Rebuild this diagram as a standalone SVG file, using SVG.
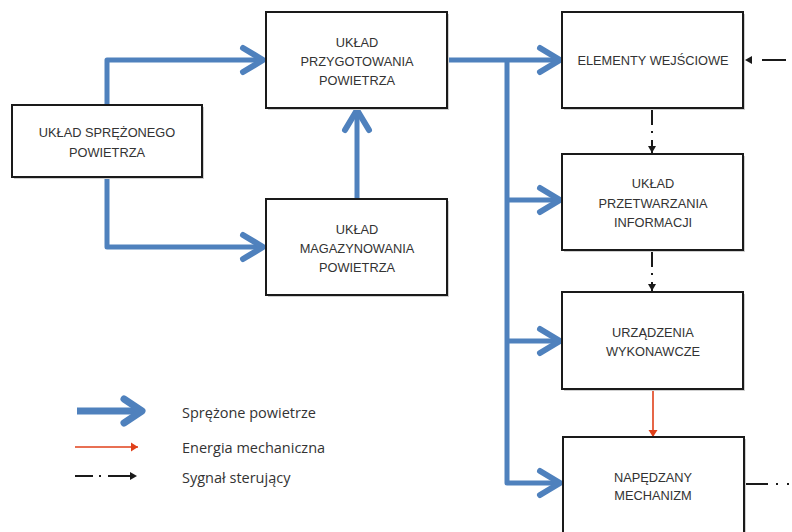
<svg xmlns="http://www.w3.org/2000/svg" width="792" height="532" viewBox="0 0 792 532">
<style>
.box{fill:#fff;stroke:#1a1a1a;stroke-width:2}
.sh{fill:#cfcfcf}
.t{font-family:"Liberation Sans",Arial,sans-serif;font-size:12.8px;fill:#333;text-anchor:middle;dominant-baseline:central}
.lg{font-family:"Open Sans","Liberation Sans",sans-serif;font-size:14.5px;fill:#333;dominant-baseline:central}
.air{fill:none;stroke:#4f81bd;stroke-width:5;stroke-linejoin:round;stroke-linecap:butt}
.mech{fill:none;stroke:#e0401a;stroke-width:1.6}
.sig{fill:none;stroke:#1a1a1a;stroke-width:2;stroke-dasharray:17 6 2 7}
</style>
<defs>
<marker id="chev" markerUnits="userSpaceOnUse" viewBox="-26 -16 30 32" refX="0" refY="0" markerWidth="30" markerHeight="32" orient="auto" overflow="visible">
<path d="M-20,-12 L0,0 L-20,12" fill="none" stroke="#4f81bd" stroke-width="6" stroke-linecap="round" stroke-linejoin="round"/>
</marker>
<marker id="red" markerUnits="userSpaceOnUse" viewBox="-8 -5 9 10" refX="0" refY="0" markerWidth="9" markerHeight="10" orient="auto" overflow="visible">
<path d="M-7,-4.5 L0,0 L-7,4.5 Z" fill="#e0401a"/>
</marker>
<marker id="blk" markerUnits="userSpaceOnUse" viewBox="-8 -5 9 10" refX="0" refY="0" markerWidth="9" markerHeight="10" orient="auto" overflow="visible">
<path d="M-7,-4 L0,0 L-7,4 Z" fill="#1a1a1a"/>
</marker>
</defs>

<g id="connectors">
<path class="air" d="M107,105 V60 H263" marker-end="url(#chev)"/>
<path class="air" d="M107,177 V247 H263" marker-end="url(#chev)"/>
<path class="air" d="M357,199 V110" marker-end="url(#chev)"/>
<path class="air" d="M447,60 H560" marker-end="url(#chev)"/>
<path class="air" d="M507,60 V483 H560" marker-end="url(#chev)"/>
<path class="air" d="M507,200 H560" marker-end="url(#chev)"/>
<path class="air" d="M507,341 H560" marker-end="url(#chev)"/>
<path class="sig" d="M652,108 V153" marker-end="url(#blk)"/>
<path class="sig" d="M652,250 V291" marker-end="url(#blk)"/>
<path class="mech" d="M653,389 V437" marker-end="url(#red)"/>
<path fill="none" stroke="#1a1a1a" stroke-width="2" d="M762,60 H786"/>
<path d="M752,56 L745,60 L752,64 Z" fill="#1a1a1a"/>
<path fill="none" stroke="#1a1a1a" stroke-width="2" stroke-dasharray="24 8 2 9 2 20" d="M744,484 H792"/>
</g>

<g id="n-sprezonego">
<rect class="sh" x="14" y="107" width="190" height="72"/>
<rect class="box" x="12" y="105" width="190" height="72"/>
<text class="t" x="107" y="132">UKŁAD SPRĘŻONEGO</text>
<text class="t" x="107" y="152">POWIETRZA</text>
</g>
<g id="n-przygotowania">
<rect class="sh" x="268" y="14" width="181" height="96"/>
<rect class="box" x="266" y="12" width="181" height="96"/>
<text class="t" x="357" y="42">UKŁAD</text>
<text class="t" x="357" y="61">PRZYGOTOWANIA</text>
<text class="t" x="357" y="80">POWIETRZA</text>
</g>
<g id="n-magazynowania">
<rect class="sh" x="268" y="201" width="181" height="96"/>
<rect class="box" x="266" y="199" width="181" height="96"/>
<text class="t" x="357" y="229">UKŁAD</text>
<text class="t" x="357" y="248">MAGAZYNOWANIA</text>
<text class="t" x="357" y="267">POWIETRZA</text>
</g>
<g id="n-elementy">
<rect class="sh" x="564" y="14" width="181" height="96"/>
<rect class="box" x="562" y="12" width="181" height="96"/>
<text class="t" x="653" y="60">ELEMENTY WEJŚCIOWE</text>
</g>
<g id="n-przetwarzania">
<rect class="sh" x="564" y="156" width="181" height="96"/>
<rect class="box" x="562" y="154" width="181" height="96"/>
<text class="t" x="653" y="183">UKŁAD</text>
<text class="t" x="653" y="203">PRZETWARZANIA</text>
<text class="t" x="653" y="222">INFORMACJI</text>
</g>
<g id="n-urzadzenia">
<rect class="sh" x="564" y="294" width="181" height="97"/>
<rect class="box" x="562" y="292" width="181" height="97"/>
<text class="t" x="653" y="332">URZĄDZENIA</text>
<text class="t" x="653" y="351">WYKONAWCZE</text>
</g>
<g id="n-napedzany">
<rect class="sh" x="565" y="439" width="181" height="100"/>
<rect class="box" x="563" y="437" width="181" height="100"/>
<text class="t" x="653" y="477">NAPĘDZANY</text>
<text class="t" x="653" y="495">MECHANIZM</text>
</g>

<g id="legend">
<path fill="none" stroke="#4f81bd" stroke-width="7" d="M77,411 H140"/>
<path d="M124,399 L142,411 L124,423" fill="none" stroke="#4f81bd" stroke-width="7" stroke-linecap="round" stroke-linejoin="round"/>
<text class="lg" x="182" y="412">Sprężone  powietrze</text>
<path class="mech" d="M75,447 H138" marker-end="url(#red)"/>
<text class="lg" x="182" y="447">Energia mechaniczna</text>
<path fill="none" stroke="#1a1a1a" stroke-width="2" d="M75,476 H93 M99,476 H101 M108,476 H131"/>
<path d="M130,472 L137,476 L130,480 Z" fill="#1a1a1a"/>
<text class="lg" x="182" y="477">Sygnał sterujący</text>
</g>
</svg>
